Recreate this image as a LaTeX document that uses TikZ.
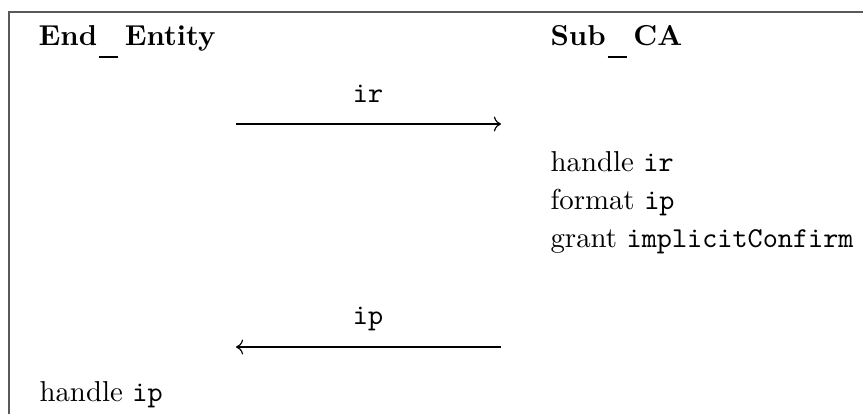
\documentclass[tikz,border=0pt]{standalone}
\usetikzlibrary{arrows.meta}
\newcommand\uscore{\kern0.6pt\rule[-4.3pt]{6.6pt}{0.8pt}\kern2.4pt}
\begin{document}
\begin{tikzpicture}[x=0.3472pt,y=-0.3472pt,
  txt/.style={inner sep=0pt,anchor=base west},
  lbl/.style={inner sep=0pt,anchor=base,font=\ttfamily},
  head/.style={inner sep=0pt,anchor=base west,font=\bfseries},
  frame/.style={draw=black!65,line width=0.6pt},
  msg/.style={draw=black,line width=0.4pt,-To}]
\useasboundingbox (0,0) rectangle (863,414);
\coordinate (fb) at (9,414);
\coordinate (fc) at (9,12);
\coordinate (fr) at (863,12);
\draw[frame] (fb) -- (fc) -- (fr);
\node[head] (ee) at (38,46) {End\uscore Entity};
\node[head] (ca) at (550,46) {Sub\uscore CA};
\node[lbl] (ir) at (368,103) {ir};
\coordinate (a1s) at (236,124);
\coordinate (a1e) at (501,124);
\draw[msg] (a1s) -- (a1e);
\node[txt] (h1) at (550,172) {handle \texttt{ir}};
\node[txt] (f1) at (550,210) {format \texttt{ip}};
\node[txt] (g1) at (550,248) {grant \texttt{implicitConfirm}};
\node[lbl] (ip) at (368,325) {ip};
\coordinate (a2s) at (501,347);
\coordinate (a2e) at (236,347);
\draw[msg] (a2s) -- (a2e);
\node[txt] (h2) at (39,402) {handle \texttt{ip}};
\end{tikzpicture}
\end{document}
